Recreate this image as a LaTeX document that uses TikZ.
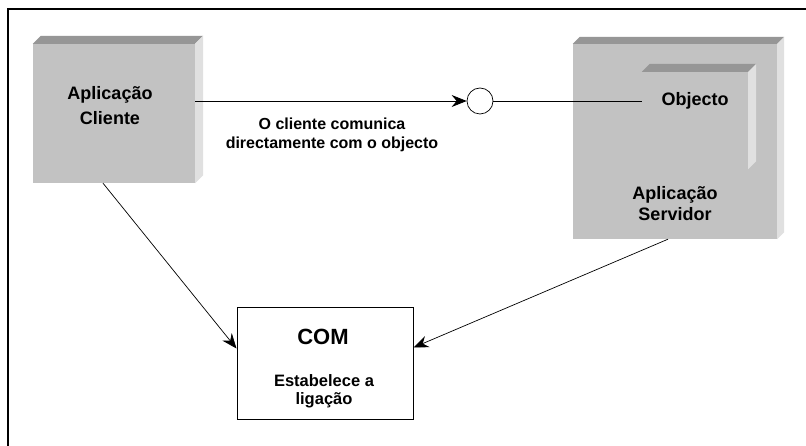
\documentclass[tikz,border=0pt]{standalone}
\usepackage{fontspec}
\setmainfont{Liberation Sans}
\usetikzlibrary{arrows.meta}

\definecolor{facegray}{RGB}{194,194,194}
\definecolor{topgray}{RGB}{150,150,150}
\definecolor{sidegray}{RGB}{224,224,224}

% raised edges of a box node: #1 node, #2 depth
\newcommand{\boxbevel}[2]{%
  \fill[topgray] (#1.north west) -- ([shift={(#2,-#2)}]#1.north west)
    -- ([shift={(#2,-#2)}]#1.north east) -- (#1.north east) -- cycle;
  \fill[sidegray] (#1.north east) -- ([shift={(#2,-#2)}]#1.north east)
    -- ([shift={(#2,-#2)}]#1.south east) -- (#1.south east) -- cycle;}

\begin{document}
\begin{tikzpicture}[x=1pt, y=-1pt,
    face/.style={rectangle, fill=facegray, inner sep=0pt},
    boxtext/.style={font=\bfseries\fontsize{18}{25}\selectfont, align=center, inner sep=0pt},
    conn/.style={line width=0.7pt, -{Stealth[length=15pt, width=12pt, inset=5pt]}}]
  \useasboundingbox[fill=white] (0,0) rectangle (806,446);
  \draw[line width=2pt] (8,450) -- (8,9) -- (810,9);

  % client application
  \node[face, minimum width=162pt, minimum height=139pt] (client) at (114,113.5) {};
  \boxbevel{client}{8}
  \node[boxtext] (clientlbl) at (110,106) {Aplicação\\Cliente};

  % server application with the object inside
  \node[face, minimum width=204pt, minimum height=195pt] (server) at (675,141.5) {};
  \boxbevel{server}{7}
  \node[face, minimum width=106pt, minimum height=97pt] (obj) at (695,120.5) {};
  \boxbevel{obj}{8}
  \node[boxtext] (objlbl) at (695,101) {Objecto};
  \node[boxtext, font=\bfseries\fontsize{18}{21}\selectfont] (serverlbl) at (675,204) {Aplicação\\Servidor};

  % interface
  \node[circle, draw, fill=white, line width=0.7pt, minimum size=26pt, inner sep=0pt] (circ) at (480,101) {};
  \node[font=\bfseries\fontsize{16}{19}\selectfont, align=center, inner sep=0pt] (msg) at (332,135)
    {O cliente comunica\\directamente com o objecto};

  % COM
  \node[draw, line width=1pt, minimum width=176pt, minimum height=111pt, inner sep=0pt] (com) at (325,363.5) {};
  \node[font=\bfseries\fontsize{22}{26}\selectfont, inner sep=0pt] (comtitle) at (323,337) {COM};
  \node[font=\bfseries\fontsize{16.5}{18}\selectfont, align=center, inner sep=0pt] (comtext) at (324,391)
    {Estabelece a\\ligação};

  \draw[conn] (client.east |- circ) -- (circ.west);
  \draw[line width=0.7pt] (circ.east) -- (circ.east -| obj.west);
  \draw[conn] ([xshift=-11pt]client.south) -- ([yshift=15pt]com.west);
  \draw[conn] ([xshift=-7pt]server.south) -- ([yshift=16pt]com.east);
\end{tikzpicture}
\end{document}
